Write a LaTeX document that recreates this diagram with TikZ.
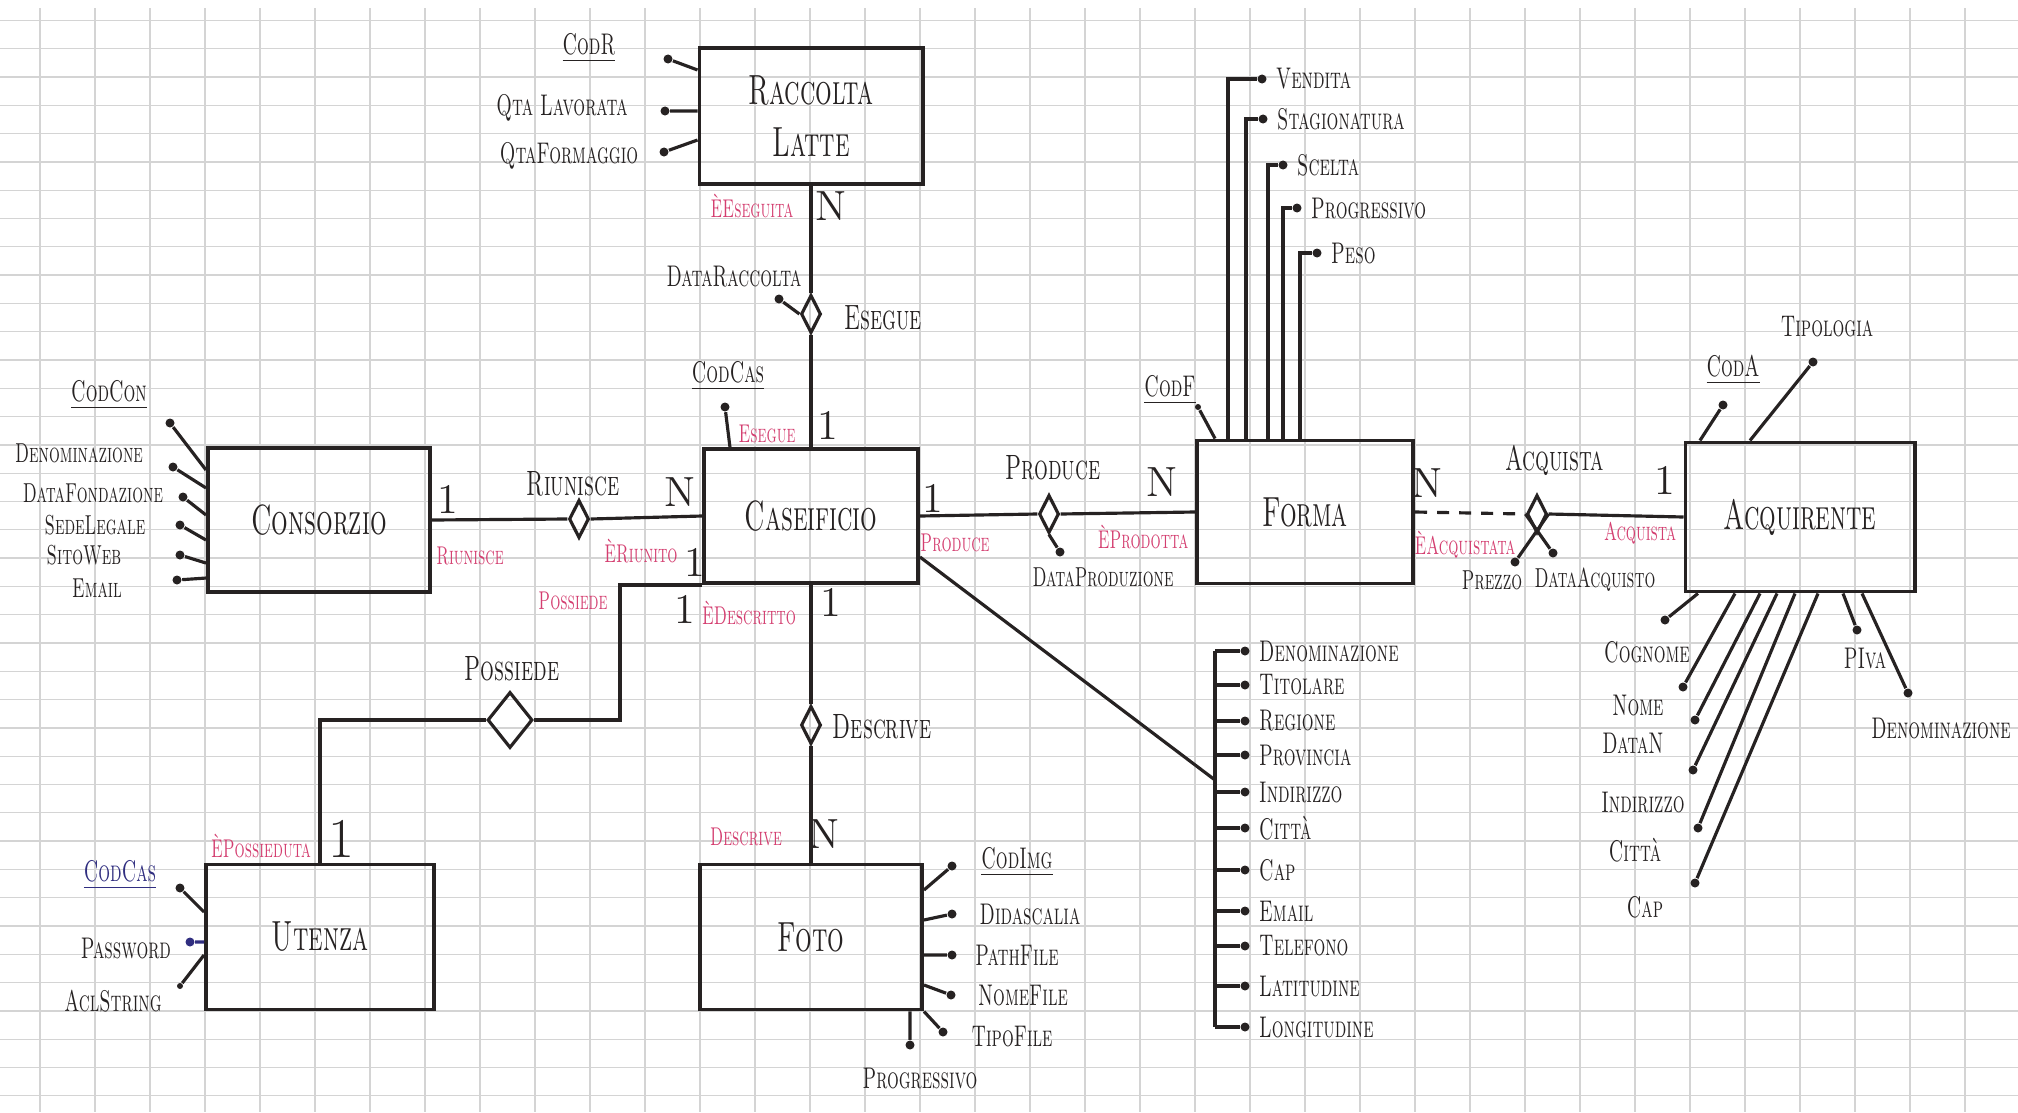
\documentclass[tikz,border=0pt]{standalone}
\usepackage{fontspec}
\usepackage{graphicx}
\usetikzlibrary{shapes.geometric}

\definecolor{ink}{RGB}{38,34,34}
\definecolor{roleink}{RGB}{212,62,112}
\definecolor{blueink}{RGB}{48,46,128}
\definecolor{gridgray}{RGB}{212,212,212}

% narrow hand lettering
\newcommand{\hw}[1]{\scalebox{0.62}[1]{#1}}

\tikzset{
  entity/.style={draw=ink, line width=1.1pt, rectangle, inner sep=0pt, text=ink, font=\fontsize{12}{15}\selectfont\scshape},
  rel/.style={draw=ink, diamond, line width=0.9pt, inner sep=0pt, minimum width=0.2cm, minimum height=0.38cm},
  attrdot/.style={circle, fill=ink, inner sep=0pt, minimum size=0.09cm},
  attrname/.style={text=ink, inner sep=1pt, font=\fontsize{8.5}{10}\selectfont\scshape},
  smallname/.style={attrname, font=\fontsize{7.8}{9}\selectfont\scshape},
  relname/.style={text=ink, font=\fontsize{10}{12}\selectfont\scshape},
  role/.style={text=roleink, font=\fontsize{7.3}{9}\selectfont\scshape},
  card/.style={text=ink, font=\fontsize{12}{13}\selectfont},
  link/.style={draw=ink, line width=0.9pt},
  gridline/.style={draw=gridgray, line width=0.35pt}
}

\begin{document}
\begin{tikzpicture}[x=0.01cm, y=-0.01cm]
  \useasboundingbox (0,0) rectangle (2018,1112);
  \fill[white] (0,0) rectangle (2018,1112);
  % squared paper
  \foreach \gx in {0,...,36} \draw[gridline] ({40+55*\gx},8) -- ({40+55*\gx},1112);
  \foreach \gy in {0,...,38} \draw[gridline] (0,{20.4+28.3*\gy}) -- (2018,{20.4+28.3*\gy});

  % entities
  \node[entity, minimum width=2.23cm, minimum height=1.36cm, align=center] (rac) at (811,116) {\hw{Raccolta}\\\hw{Latte}};
  \node[entity, minimum width=2.14cm, minimum height=1.34cm] (cas) at (811,516) {\hw{Caseificio}};
  \node[entity, minimum width=2.22cm, minimum height=1.44cm] (con) at (319,520) {\hw{Consorzio}};
  \node[entity, minimum width=2.28cm, minimum height=1.45cm] (ute) at (320,937) {\hw{Utenza}};
  \node[entity, minimum width=2.22cm, minimum height=1.45cm] (foto) at (811,937) {\hw{Foto}};
  \node[entity, minimum width=2.16cm, minimum height=1.43cm] (forma) at (1305,512) {\hw{Forma}};
  \node[entity, minimum width=2.29cm, minimum height=1.49cm] (acqr) at (1800,517) {\hw{Acquirente}};

  % relationships
  \node[rel] (eseg) at (811,314) {};
  \node[rel] (riu) at (579,519) {};
  \node[rel] (descr) at (811,725) {};
  \node[rel] (prod) at (1049,514) {};
  \node[rel] (acq) at (1537,514) {};
  \node[rel, minimum width=0.45cm, minimum height=0.56cm] (poss) at (510,720) {};

  \draw[link] (rac.south) -- (eseg.north);
  \draw[link] (eseg.south) -- (cas.north);
  \draw[link] (con.east) -- (riu.west);
  \draw[link] (riu.east) -- (cas.west);
  \draw[link] (cas.south) -- (descr.north);
  \draw[link] (descr.south) -- (foto.north);
  \draw[link] (cas.east) -- (prod.west);
  \draw[link] (prod.east) -- (forma.west);
  \draw[link, dash pattern=on 0.12cm off 0.1cm] (forma.east) -- (acq.west);
  \draw[link] (acq.east) -- (acqr.west);
  \draw[link] (cas.south west) -- ++(-82,0) |- (poss.east);
  \draw[link] (poss.west) -| (ute.north);

  \node[relname] (esegl) at (883,318) {\hw{Esegue}};
  \node[relname] (riul) at (573,484) {\hw{Riunisce}};
  \node[relname] (possl) at (512,669) {\hw{Possiede}};
  \node[relname] (descrl) at (882,727) {\hw{Descrive}};
  \node[relname] (prodl) at (1053,468) {\hw{Produce}};
  \node[relname] (acql) at (1555,460) {\hw{Acquista}};

  % roles
  \node[role] (r1) at (752,206) {\hw{ÈEseguita}};
  \node[role] (r2) at (767,434) {\hw{Esegue}};
  \node[role] (r3) at (470,556) {\hw{Riunisce}};
  \node[role] (r4) at (641,551) {\hw{ÈRiunito}};
  \node[role] (r5) at (573,601) {\hw{Possiede}};
  \node[role] (r6) at (749,613) {\hw{ÈDescritto}};
  \node[role] (r7) at (746,837) {\hw{Descrive}};
  \node[role] (r8) at (261,846) {\hw{ÈPossieduta}};
  \node[role] (r9) at (955,543) {\hw{Produce}};
  \node[role] (r10) at (1143,537) {\hw{ÈProdotta}};
  \node[role] (r11) at (1465,545) {\hw{ÈAcquistata}};
  \node[role] (r12) at (1640,533) {\hw{Acquista}};

  % cardinalities
  \node[card] (c1) at (831,206) {N};
  \node[card] (c2) at (828,425) {1};
  \node[card] (c3) at (448,499) {1};
  \node[card] (c4) at (680,492) {N};
  \node[card] (c5) at (695,562) {1};
  \node[card] (c6) at (685,609) {1};
  \node[card] (c7) at (831,602) {1};
  \node[card] (c8) at (824,834) {N};
  \node[card, font=\fontsize{16}{17}\selectfont] (c9) at (341,839) {1};
  \node[card] (c10) at (933,498) {1};
  \node[card] (c11) at (1162,482) {N};
  \node[card] (c12) at (1427,483) {N};
  \node[card] (c13) at (1665,480) {1};

  % Raccolta Latte attributes
  \node[attrdot] (codr) at (668,59) {};
  \node[attrname] (lcodr) at (589,48) {\hw{\underline{CodR}}};
  \draw[link] (codr) -- ([yshift=0.46cm]rac.west);
  \node[attrdot] (qtal) at (665,111) {};
  \node[attrname] (lqtal) at (562,108) {\hw{Qta Lavorata}};
  \draw[link] (qtal) -- ([yshift=0.05cm]rac.west);
  \node[attrdot] (qtaf) at (664,152) {};
  \node[attrname] (lqtaf) at (569,156) {\hw{QtaFormaggio}};
  \draw[link] (qtaf) -- ([yshift=-0.24cm]rac.west);
  \node[attrdot] (drac) at (779,299) {};
  \node[attrname] (ldrac) at (734,277) {\hw{DataRaccolta}};
  \draw[link] (drac) -- (eseg.west);

  % Consorzio attributes
  \node[attrdot] (codcon) at (170,423) {};
  \node[attrname] (lcodcon) at (109,395) {\hw{\underline{CodCon}}};
  \draw[link] (codcon) -- ([yshift=0.50cm]con.west);
  \foreach \nm/\lab/\dx/\dy/\lx/\ly/\ys in {cden/Denominazione/173/467/79/453/0.32, cdat/DataFondazione/183/497/93/493/0.05, csed/SedeLegale/180/525/95/525/-0.20, csit/SitoWeb/180/555/84/555/-0.43, cema/Email/177/580/97/588/-0.58}
  {
    \node[attrdot] (\nm) at (\dx,\dy) {};
    \node[smallname] (l\nm) at (\lx,\ly) {\hw{\lab}};
    \draw[link] (\nm) -- ([yshift=\ys cm]con.west);
  }

  % Caseificio attributes
  \node[attrdot] (codcas) at (725,407) {};
  \node[attrname] (lcodcas) at (728,376) {\hw{\underline{CodCas}}};
  \draw[link] (codcas) -- ([xshift=-0.81cm]cas.north);
  \coordinate (spinetop) at (1215,651);
  \coordinate (spinebot) at (1215,1027);
  \coordinate (spinejoin) at (1215,780);
  \draw[link] (spinetop) -- (spinebot);
  \draw[link] ([yshift=-0.41cm]cas.east) -- (spinejoin);
  \foreach \lab/\yy [count=\i] in {Denominazione/651, Titolare/685, Regione/721, Provincia/755, Indirizzo/792, Città/828, Cap/870, Email/911, Telefono/946, Latitudine/986, Longitudine/1027}
  {
    \node[attrdot] (ca\i) at (1245,\yy) {};
    \node[attrname, anchor=west] (lca\i) at (1255,\yy) {\hw{\lab}};
    \draw[link] (ca\i) -- (ca\i -| spinetop);
  }

  % Utenza attributes
  \node[attrdot] (codcasu) at (180,888) {};
  \node[attrname, text=blueink] (lcodcasu) at (120,875) {\hw{\underline{CodCas}}};
  \draw[link] (codcasu) -- ([yshift=0.25cm]ute.west);
  \node[attrdot, fill=blueink] (passw) at (190,942) {};
  \node[attrname] (lpassw) at (126,948) {\hw{Password}};
  \draw[link, draw=blueink] (passw) -- ([yshift=-0.05cm]ute.west);
  \node[attrdot, minimum size=0.06cm] (acl) at (180,986) {};
  \node[attrname] (lacl) at (113,1001) {\hw{AclString}};
  \draw[link] (acl) -- ([yshift=-0.18cm]ute.west);

  % Foto attributes
  \foreach \nm/\lab/\dx/\dy/\lx/\ly/\ys in {codimg/\underline{CodImg}/952/866/1017/862/0.47, didas/Didascalia/952/914/1030/914/0.17, pathf/PathFile/952/955/1017/955/-0.18, nomef/NomeFile/951/995/1023/995/-0.48}
  {
    \node[attrdot] (\nm) at (\dx,\dy) {};
    \node[attrname] (l\nm) at (\lx,\ly) {\hw{\lab}};
    \draw[link] (\nm) -- ([yshift=\ys cm]foto.east);
  }
  \node[attrdot] (tipof) at (943,1032) {};
  \node[attrname] (ltipof) at (1012,1037) {\hw{TipoFile}};
  \draw[link] (tipof) -- (foto.south east);
  \node[attrdot] (progr) at (910,1045) {};
  \node[attrname] (lprogr) at (920,1078) {\hw{Progressivo}};
  \draw[link] (progr) -- ([xshift=0.99cm]foto.south);

  % Produce attribute
  \node[attrdot] (dprod) at (1060,552) {};
  \node[smallname] (ldprod) at (1103,577) {\hw{DataProduzione}};
  \draw[link] (dprod) -- (prod.south);

  % Forma attributes
  \node[attrdot, minimum size=0.06cm] (codf) at (1198,407) {};
  \node[attrname] (lcodf) at (1170,390) {\hw{\underline{CodF}}};
  \draw[link] (codf) -- ([xshift=0.2cm]forma.north west);
  \foreach \nm/\lab/\xs/\yy/\dx in {vend/Vendita/0.33/79/1262, stag/Stagionatura/0.51/119/1263, scel/Scelta/0.73/165/1283, prog/Progressivo/0.88/208/1297, peso/Peso/1.05/253/1317}
  {
    \node[attrdot] (\nm) at (\dx,\yy) {};
    \node[attrname, anchor=west] (l\nm) at ({\dx+10},\yy) {\hw{\lab}};
    \draw[link] (\nm) -| ([xshift=\xs cm]forma.north west);
  }

  % Acquista attributes
  \node[attrdot] (prz) at (1515,562) {};
  \node[smallname] (lprz) at (1492,580) {\hw{Prezzo}};
  \draw[link] (prz) -- (acq.east);
  \node[attrdot] (dacq) at (1553,553) {};
  \node[smallname] (ldacq) at (1595,580) {\hw{DataAcquisto}};
  \draw[link] (dacq) -- (acq.west);

  % Acquirente attributes
  \node[attrdot] (coda) at (1723,405) {};
  \node[attrname] (lcoda) at (1733,370) {\hw{\underline{CodA}}};
  \draw[link] (coda) -- ([xshift=-1.0cm]acqr.north);
  \node[attrdot] (tipol) at (1813,362) {};
  \node[attrname] (ltipol) at (1827,327) {\hw{Tipologia}};
  \draw[link] (tipol) -- ([xshift=-0.5cm]acqr.north);
  \foreach \nm/\lab/\xs/\dx/\dy/\lx/\ly in {cogn/Cognome/-1.02/1665/620/1647/652, nome/Nome/-0.65/1683/687/1638/705, datan/DataN/-0.40/1695/720/1633/743, indir/Indirizzo/-0.23/1693/770/1643/802, citta/Città/-0.05/1698/828/1635/850, capa/Cap/0.18/1695/883/1645/907, piva/PIva/0.43/1857/630/1865/658, denom/Denominazione/0.62/1908/693/1941/728}
  {
    \node[attrdot] (\nm) at (\dx,\dy) {};
    \node[attrname] (l\nm) at (\lx,\ly) {\hw{\lab}};
    \draw[link] (\nm) -- ([xshift=\xs cm]acqr.south);
  }
\end{tikzpicture}
\end{document}
